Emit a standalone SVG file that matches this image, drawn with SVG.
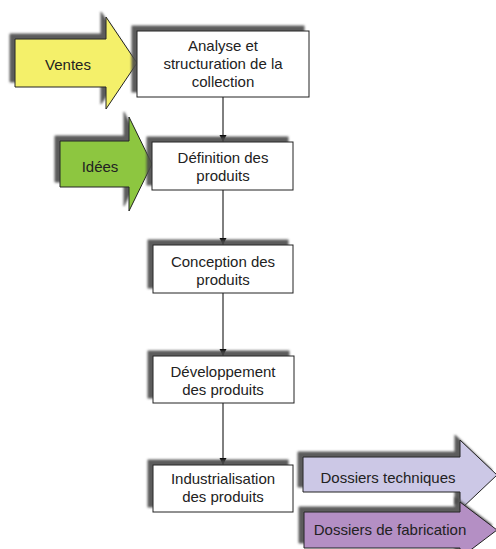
<svg xmlns="http://www.w3.org/2000/svg" width="496" height="549" viewBox="0 0 496 549">
  <defs>
    <filter id="sh" x="-20%" y="-30%" width="140%" height="160%">
      <feGaussianBlur in="SourceAlpha" stdDeviation="1.3" result="b"/>
      <feOffset in="b" dx="-5" dy="-5" result="o"/>
      <feFlood flood-color="#4a4a4a" flood-opacity="0.9"/>
      <feComposite in2="o" operator="in" result="s"/>
      <feMerge>
        <feMergeNode in="s"/>
        <feMergeNode in="SourceGraphic"/>
      </feMerge>
    </filter>
    <marker id="ah" markerWidth="8" markerHeight="8" refX="7" refY="4" orient="auto" markerUnits="userSpaceOnUse">
      <path d="M0,0.5 L7,4 L0,7.5 Z" fill="#000"/>
    </marker>
  </defs>
  <style>
    .box { fill: #ffffff; stroke: #222; stroke-width: 1; }
    .arr { stroke: #222; stroke-width: 1; stroke-linejoin: miter; }
    .t { font-family: "Liberation Sans", Arial, sans-serif; font-size: 15px; fill: #222; text-anchor: middle; }
    .c { stroke: #000; stroke-width: 1; fill: none; }
  </style>
  <rect width="496" height="549" fill="#ffffff"/>

  <g id="connectors">
    <line class="c" x1="223" y1="97" x2="223" y2="142" marker-end="url(#ah)"/>
    <line class="c" x1="223" y1="190" x2="223" y2="245" marker-end="url(#ah)"/>
    <line class="c" x1="223" y1="293" x2="223" y2="356" marker-end="url(#ah)"/>
    <line class="c" x1="223" y1="403" x2="223" y2="465" marker-end="url(#ah)"/>
  </g>

  <g id="ventes">
    <polygon class="arr" fill="#f4f06a" filter="url(#sh)" points="15,39 106,39 106,17 137,63 106,109 106,87 15,87"/>
    <text class="t" x="68" y="70">Ventes</text>
  </g>

  <g id="idees">
    <polygon class="arr" fill="#8dc63f" filter="url(#sh)" points="60,141 129,141 129,117 152,164 129,211 129,187 60,187"/>
    <text class="t" x="100" y="172">Idées</text>
  </g>

  <g id="analyse">
    <rect class="box" filter="url(#sh)" x="137" y="31" width="172" height="66"/>
    <text class="t" x="223" y="51">Analyse et</text>
    <text class="t" x="223" y="69">structuration de la</text>
    <text class="t" x="223" y="87">collection</text>
  </g>

  <g id="definition">
    <rect class="box" filter="url(#sh)" x="152" y="142" width="141" height="48"/>
    <text class="t" x="223" y="163">Définition des</text>
    <text class="t" x="223" y="181">produits</text>
  </g>

  <g id="conception">
    <rect class="box" filter="url(#sh)" x="153" y="245" width="140" height="48"/>
    <text class="t" x="223" y="267">Conception des</text>
    <text class="t" x="223" y="285">produits</text>
  </g>

  <g id="developpement">
    <rect class="box" filter="url(#sh)" x="153" y="356" width="141" height="47"/>
    <text class="t" x="223" y="377">Développement</text>
    <text class="t" x="223" y="395">des produits</text>
  </g>

  <g id="industrialisation">
    <rect class="box" filter="url(#sh)" x="153" y="465" width="140" height="47"/>
    <text class="t" x="223" y="484">Industrialisation</text>
    <text class="t" x="223" y="502">des produits</text>
  </g>

  <g id="dossiers-techniques">
    <polygon class="arr" fill="#ccc8e6" filter="url(#sh)" points="303,457 460,457 460,440 497,475 460,510 460,492 303,492"/>
    <text class="t" x="388" y="483">Dossiers techniques</text>
  </g>

  <g id="dossiers-fabrication">
    <polygon class="arr" fill="#b48fc4" filter="url(#sh)" points="304,512 460,512 460,502 497,530 460,558 460,548 304,548"/>
    <text class="t" x="390" y="535">Dossiers de fabrication</text>
  </g>
</svg>
